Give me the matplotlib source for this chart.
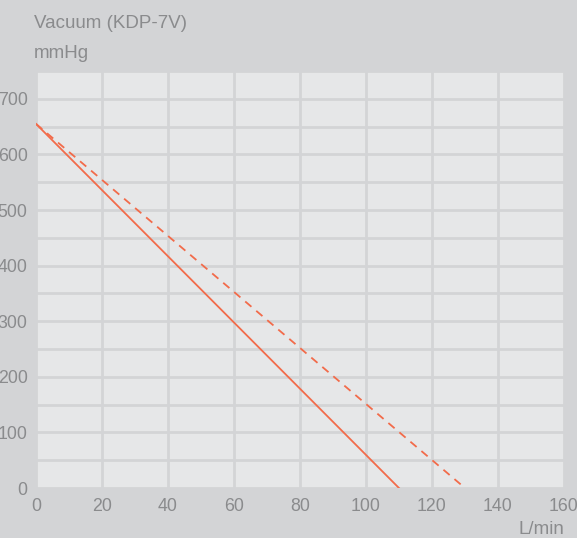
import numpy as np
import matplotlib.pyplot as plt

plt.rcParams['font.family'] = ['Liberation Sans', 'DejaVu Sans']

# Flow (L/min) vs vacuum (mmHg)
flow_solid = [0, 110]
vac_solid = [655, 0]
flow_dashed = [0, 130]
vac_dashed = [655, 0]

x_ticks = [0, 20, 40, 60, 80, 100, 120, 140, 160]
y_ticks = [0, 100, 200, 300, 400, 500, 600, 700]

bg = '#d3d4d6'
panel = '#e6e7e8'
grid = '#d3d4d6'
txt = '#8a8b8d'
line_c = '#f26b4a'

fig = plt.figure(figsize=(5.77, 5.38), dpi=100, facecolor=bg)
ax = fig.add_axes([0.0624, 0.0929, 0.915, 0.775])
ax.set_facecolor(panel)

ax.plot(flow_solid, vac_solid, color=line_c, lw=1.3, zorder=3)
ax.plot(flow_dashed, vac_dashed, color=line_c, lw=1.3, dashes=(4.5, 3.5), zorder=3)

ax.set_xlim(0, 160)
ax.set_ylim(0, 750)
ax.set_xticks(x_ticks)
ax.set_yticks(y_ticks)
ax.set_yticks(np.arange(50, 751, 100), minor=True)
ax.grid(True, which='both', color=grid, lw=2)
ax.set_axisbelow(True)
ax.tick_params(which='both', length=0, colors=txt, labelsize=12.8)
ax.tick_params(axis='y', pad=6)
ax.tick_params(axis='x', pad=7)
for s in ax.spines.values():
    s.set_visible(False)

fig.text(34 / 577, 1 - 24 / 538, 'Vacuum (KDP-7V)', color=txt, fontsize=13.5, va='center')
fig.text(34 / 577, 1 - 53 / 538, 'mmHg', color=txt, fontsize=13.5, va='center')
fig.text(564 / 577, 1 - 529 / 538, 'L/min', color=txt, fontsize=13.5, va='center', ha='right')

fig.savefig('out.png', dpi=100, facecolor=bg)
